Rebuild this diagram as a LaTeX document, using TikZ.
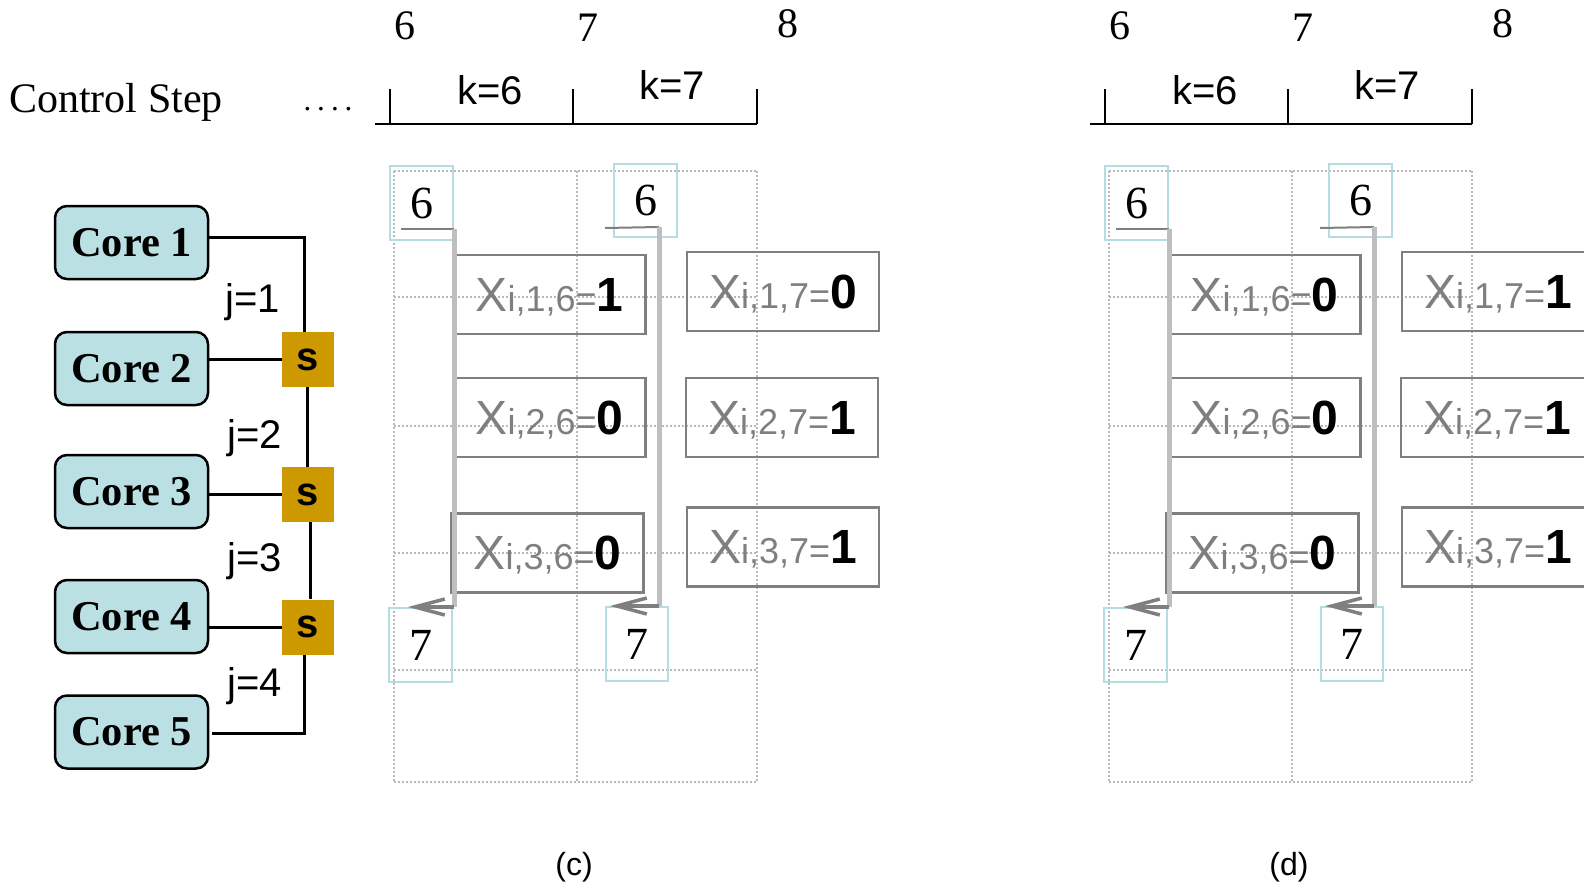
\documentclass[tikz,border=0pt]{standalone}
\usepackage{fontspec}
\setmainfont{Liberation Serif}
\setsansfont{Liberation Sans}
\usetikzlibrary{arrows.meta}

\definecolor{corefill}{HTML}{BBE0E3}
\definecolor{switchgold}{HTML}{CC9900}
\definecolor{stepcyan}{HTML}{B4DCE2}
\definecolor{labgray}{HTML}{7F7F7F}
\definecolor{bargray}{HTML}{BFBFBF}
\definecolor{gridgray}{HTML}{B8B8B8}

\tikzset{
  corebox/.style={draw=black, line width=2.5pt, fill=corefill, rounded corners=12pt,
    minimum width=153pt, minimum height=73pt, inner sep=0pt,
    font=\fontsize{42.5}{48}\selectfont\bfseries},
  switchbox/.style={fill=switchgold, minimum width=52pt, minimum height=55pt, inner sep=0pt,
    font=\sffamily\bfseries\fontsize{40}{46}\selectfont},
  wire/.style={line width=3pt, draw=black},
  jlab/.style={font=\sffamily\fontsize{40}{46}\selectfont, text depth=0pt, inner sep=0pt},
  serifnum/.style={font=\fontsize{42}{48}\selectfont, text depth=0pt, inner sep=0pt},
  klab/.style={font=\sffamily\fontsize{40}{46}\selectfont, text depth=0pt, inner sep=0pt},
  bracket/.style={line width=2pt, draw=black},
  gridline/.style={draw=gridgray, line width=1.5pt, dash pattern=on 1.5pt off 2.5pt},
  stepbox/.style={draw=stepcyan, line width=2pt, inner sep=0pt,
    font=\fontsize{46}{52}\selectfont, text depth=0pt},
  xbox/.style={draw=labgray, line width=2.5pt, minimum width=192pt, minimum height=79pt,
    inner sep=0pt, font=\sffamily, text depth=0pt},
  bar/.style={draw=bargray, line width=5pt},
  underline/.style={draw=labgray, line width=2pt},
  steparrow/.style={draw=labgray, line width=3.5pt,
    -{Straight Barb[length=30pt,width=16pt]}},
  caption/.style={font=\sffamily\fontsize{32}{36}\selectfont, inner sep=0pt},
}

% variable label: grey X with small index part, bold black value
\newcommand\xlab[3]{{\color{labgray}\fontsize{48}{56}\selectfont X\fontsize{36}{42}\selectfont i,#1,#2=}{\fontsize{48}{56}\selectfont\bfseries #3}}

% one scheduling panel: #1 shift, #2 name suffix, #3..#8 values
\newcommand\drawpanel[8]{%
\begin{scope}[xshift=#1]
  % time axis
  \node[serifnum] (t6#2) at (405,26) {6};
  \node[serifnum] (t7#2) at (588,28) {7};
  \node[serifnum] (t8#2) at (788,24) {8};
  \coordinate (axL#2) at (375,124);
  \coordinate (axR#2) at (757,124);
  \coordinate (tkA#2) at (390,89);
  \coordinate (tkB#2) at (573,89);
  \coordinate (tkC#2) at (757,89);
  \draw[bracket] (axL#2) -- (axR#2);
  \draw[bracket] (tkA#2) -- (tkA#2 |- axL#2);
  \draw[bracket] (tkB#2) -- (tkB#2 |- axL#2);
  \draw[bracket] (tkC#2) -- (axR#2);
  \node[klab] (k6#2) at (490,90) {k=6};
  \node[klab] (k7#2) at (672,85) {k=7};
  % dotted grid
  \foreach \gy in {171,297,426,553,670,782}
    \draw[gridline] (394,\gy) -- (757,\gy);
  \foreach \gx in {394,577,757}
    \draw[gridline] (\gx,171) -- (\gx,782);
  % start and end steps
  \node[stepbox, minimum width=63pt, minimum height=74pt] (sa#2) at (421.5,203) {6};
  \node[stepbox, minimum width=63pt, minimum height=73pt] (sb#2) at (645.5,200.5) {6};
  \node[stepbox, minimum width=63pt, minimum height=74pt] (ea#2) at (420.5,645) {7};
  \node[stepbox, minimum width=62pt, minimum height=74pt] (eb#2) at (637,644) {7};
  % variables
  \node[xbox] (x16#2) at (549.5,294.5) {\xlab{1}{6}{#3}};
  \node[xbox] (x26#2) at (549.5,417.5) {\xlab{2}{6}{#4}};
  \node[xbox] (x36#2) at (547.5,553) {\xlab{3}{6}{#5}};
  \node[xbox] (x17#2) at (783,291.5) {\xlab{1}{7}{#6}};
  \node[xbox] (x27#2) at (782,417.5) {\xlab{2}{7}{#7}};
  \node[xbox] (x37#2) at (783,547) {\xlab{3}{7}{#8}};
  % execution spans
  \coordinate (ua#2) at (401,229);
  \coordinate (pa#2) at (454,229);
  \coordinate (qa#2) at (454,607);
  \coordinate (ra#2) at (408,607);
  \coordinate (ub#2) at (605,228);
  \coordinate (pb#2) at (659,227);
  \coordinate (qb#2) at (659,606);
  \coordinate (rb#2) at (610,606);
  \draw[underline] (ua#2) -- (pa#2);
  \draw[underline] (ub#2) -- (pb#2);
  \draw[bar] (pa#2) -- (qa#2);
  \draw[bar] (pb#2) -- (qb#2);
  \draw[steparrow] (qa#2) -- (ra#2);
  \draw[steparrow] (qb#2) -- (rb#2);
\end{scope}}

\begin{document}
\begin{tikzpicture}[x=1pt, y=-1pt]
  \useasboundingbox (0,0) rectangle (1584,883);
  \fill[white] (0,0) rectangle (1584,883);

  % header
  \node[font=\fontsize{42}{48}\selectfont, text depth=0pt, inner sep=0pt] (ctl) at (116,98) {Control Step};
  \node[font=\fontsize{31}{36}\selectfont, anchor=base, inner sep=0pt] (dots) at (328,110) {.\kern6pt.\kern6pt.\kern6pt.};

  % cores and switches
  \node[corebox] (c1) at (131.5,242.5) {Core 1};
  \node[corebox] (c2) at (131.5,368.5) {Core 2};
  \node[corebox] (c3) at (131.5,491.5) {Core 3};
  \node[corebox] (c4) at (131.5,616.5) {Core 4};
  \node[corebox] (c5) at (131.5,732) {Core 5};
  \node[switchbox] (s1) at (308,359.5) {s};
  \node[switchbox] (s2) at (308,494.5) {s};
  \node[switchbox] (s3) at (308,627) {s};

  \coordinate (bendA) at (304,237);
  \coordinate (bendB) at (304,733);
  \draw[wire] ([yshift=5.5pt]c1.east) -- (bendA) -- (bendA |- s1.north);
  \draw[wire] (s1.west) -- (s1.west -| c2.east);
  \draw[wire] ([xshift=-1pt]s1.south) -- ([xshift=-1pt]s2.north);
  \draw[wire] (s2.west) -- (s2.west -| c3.east);
  \draw[wire] ([xshift=2pt]s2.south) -- ([xshift=2pt]s3.north);
  \draw[wire] (s3.west) -- (s3.west -| c4.east);
  \draw[wire] (bendB |- s3.south) -- (bendB) -- ([xshift=3pt]bendB -| c5.east);

  \node[jlab] (j1) at (253,298) {j=1};
  \node[jlab] (j2) at (255,434) {j=2};
  \node[jlab] (j3) at (255,557) {j=3};
  \node[jlab] (j4) at (255,682) {j=4};

  % panels
  \drawpanel{0pt}{c}{1}{0}{0}{0}{1}{1}
  \drawpanel{715pt}{d}{0}{0}{0}{1}{1}{1}

  \node[caption] (capc) at (574,867) {(c)};
  \node[caption] (capd) at (1289,867) {(d)};
\end{tikzpicture}
\end{document}
